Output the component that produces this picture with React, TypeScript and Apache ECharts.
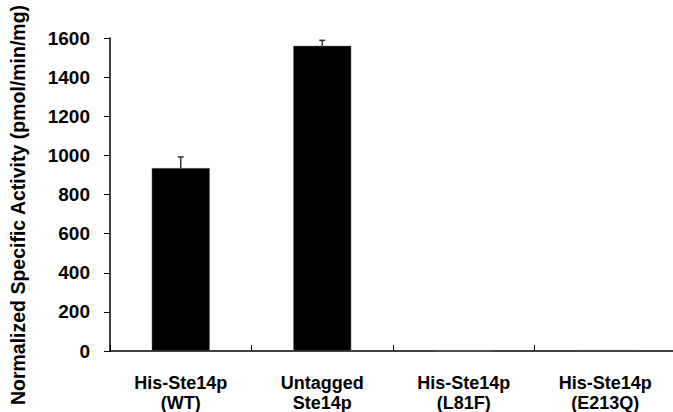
import React, { useEffect, useRef } from "react";
import * as echarts from "echarts";

const categories = ["His-Ste14p\n(WT)", "Untagged\nSte14p", "His-Ste14p\n(L81F)", "His-Ste14p\n(E213Q)"];
const values = [935, 1560, 1, 5];
const errors = [57, 28, 0, 0];
const yTicks = [0, 200, 400, 600, 800, 1000, 1200, 1400, 1600];
const yAxisTitle = "Normalized Specific Activity (pmol/min/mg)";

export default function App() {
  const ref = useRef<HTMLDivElement>(null);
  useEffect(() => {
    const chart = echarts.init(ref.current!, null, { renderer: "svg" });
    const font = "'Liberation Sans', Arial, sans-serif";
    chart.setOption({
      animation: false,
      backgroundColor: "#ffffff",
      grid: { left: 110, right: -3, top: 38, bottom: 61, containLabel: false, outerBoundsMode: "none" },
      graphic: [
        {
          type: "text",
          x: 18,
          y: 205,
          rotation: Math.PI / 2,
          style: {
            text: yAxisTitle,
            fill: "#000",
            font: `bold 19.5px ${font}`,
            align: "center",
            verticalAlign: "middle",
          },
        },
      ],
      xAxis: {
        type: "category",
        data: categories,
        axisLine: { lineStyle: { color: "#000", width: 1.5 } },
        axisTick: { show: true, inside: true, length: 6, lineStyle: { color: "#000", width: 1 } },
        axisLabel: {
          color: "#000",
          fontFamily: font,
          fontWeight: "bold",
          fontSize: 18,
          lineHeight: 20,
          margin: 22,
        },
      },
      yAxis: {
        type: "value",
        min: 0,
        max: yTicks[yTicks.length - 1],
        interval: 200,
        axisLine: { show: true, lineStyle: { color: "#000", width: 1.5 } },
        axisTick: { show: true, length: 6, lineStyle: { color: "#000", width: 1 } },
        splitLine: { show: false },
        axisLabel: {
          color: "#000",
          fontFamily: font,
          fontWeight: "bold",
          fontSize: 19,
          margin: 20,
          formatter: (v: number) => String(v),
        },
      },
      series: [
        {
          type: "bar",
          data: values,
          barWidth: "41%",
          itemStyle: { color: "#000", borderColor: "#666", borderWidth: 0.5 },
        },
        {
          type: "custom",
          data: values.map((v, i) => [i, v, v + errors[i]]),
          renderItem: (params: any, api: any) => {
            const x = api.value(0);
            const lo = api.coord([x, api.value(1)]);
            const hi = api.coord([x, api.value(2)]);
            if (api.value(2) - api.value(1) <= 0) return { type: "group", children: [] };
            const half = 3;
            const style = { stroke: "#333", lineWidth: 1.5 };
            return {
              type: "group",
              children: [
                { type: "line", shape: { x1: lo[0], y1: lo[1], x2: hi[0], y2: hi[1] }, style },
                { type: "line", shape: { x1: hi[0] - half, y1: hi[1], x2: hi[0] + half, y2: hi[1] }, style },
              ],
            };
          },
          z: 10,
        },
      ],
    });
    return () => chart.dispose();
  }, []);
  return <div ref={ref} style={{ width: 673, height: 412, position: "absolute", left: 0, top: 0 }} />;
}
